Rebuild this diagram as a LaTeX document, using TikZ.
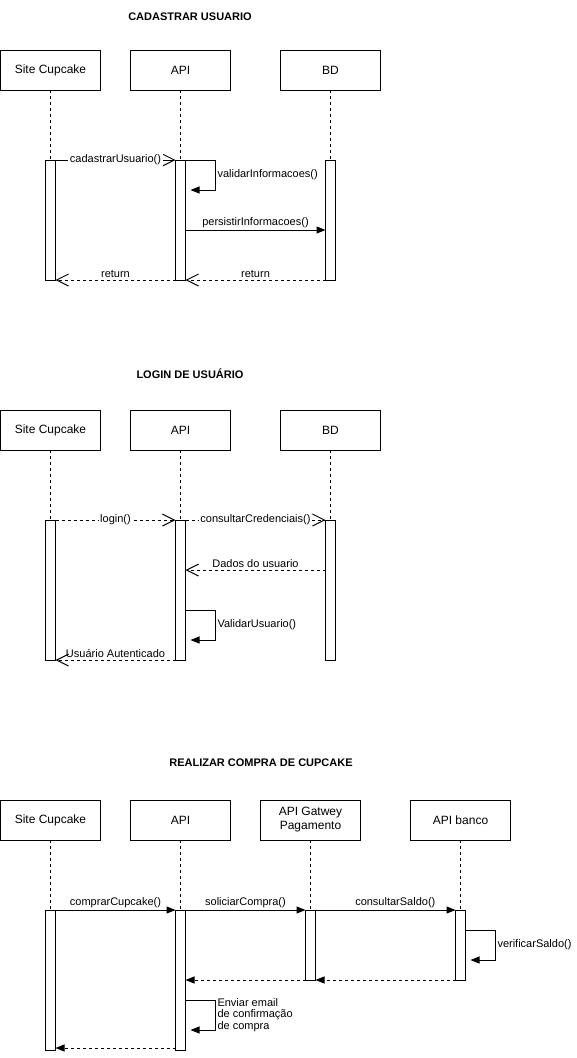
\documentclass[tikz,border=0pt]{standalone}
\usepackage{fontspec}
\setmainfont{Liberation Sans}
\usetikzlibrary{arrows.meta,positioning,calc}

\begin{document}
\begin{tikzpicture}[
  x=1pt, y=-1pt, line width=1pt,
  node distance=70pt and 30pt,
  caixa/.style={draw, minimum width=100pt, minimum height=40pt, align=center,
                inner sep=2pt, outer sep=0pt, font=\fontsize{12}{14}\selectfont},
  barra/.style={draw, fill=white, minimum width=10pt, inner sep=0pt, outer sep=0pt},
  vida/.style={dash pattern=on 3pt off 3pt},
  titulo/.style={font=\bfseries\fontsize{11}{13}\selectfont},
  rotulo/.style={font=\fontsize{11}{13}\selectfont, inner sep=1.5pt},
  nalinha/.style={rotulo, fill=white, midway},
  cheia/.style={-{Triangle[length=9pt, width=7pt]}},
  aberta/.style={-{Straight Barb[length=12pt, width=12pt]}},
  volta/.style={aberta, dash pattern=on 3pt off 3pt},
  voltac/.style={cheia, dash pattern=on 3pt off 3pt}]

  \useasboundingbox (0,0) rectangle (577,1058);

  % cadastrar usuario
  \node[titulo] (t1) at (190,17) {CADASTRAR USUARIO};
  \node[caixa, anchor=north west] (site1) at (0.5,50) {Site Cupcake};
  \node[caixa, right=of site1] (api1) {API};
  \node[caixa, right=50pt of api1] (bd1) {BD};

  \node[barra, minimum height=120pt, below=of site1] (bs1) {};
  \node[barra, minimum height=120pt, below=of api1] (ba1) {};
  \node[barra, minimum height=120pt, below=of bd1] (bb1) {};
  \draw[vida] (site1) -- (bs1);
  \draw[vida] (api1) -- (ba1);
  \draw[vida] (bd1) -- (bb1);

  \draw[aberta] (bs1.north east) -- (ba1.north west)
    node[nalinha] {cadastrarUsuario()};
  \draw[cheia] (ba1.north east) -- ++(30,0) -- ++(0,30)
    node[rotulo, midway, right] {validarInformacoes()} -- ++(-25,0);
  \draw[cheia] ($(ba1.north east)+(0,70)$) -- ($(bb1.north west)+(0,70)$)
    node[rotulo, midway, above] {persistirInformacoes()};
  \draw[volta] (ba1.south west) -- (bs1.south east)
    node[rotulo, midway, above] {return};
  \draw[volta] (bb1.south west) -- (ba1.south east)
    node[rotulo, midway, above] {return};

  % login de usuario
  \node[titulo] (t2) at (190,374) {LOGIN DE USUÁRIO};
  \node[caixa, anchor=north west] (site2) at (0.5,410) {Site Cupcake};
  \node[caixa, right=of site2] (api2) {API};
  \node[caixa, right=50pt of api2] (bd2) {BD};

  \node[barra, minimum height=140pt, below=of site2] (bs2) {};
  \node[barra, minimum height=140pt, below=of api2] (ba2) {};
  \node[barra, minimum height=140pt, below=of bd2] (bb2) {};
  \draw[vida] (site2) -- (bs2);
  \draw[vida] (api2) -- (ba2);
  \draw[vida] (bd2) -- (bb2);

  \draw[volta] (bs2.north east) -- (ba2.north west)
    node[nalinha] {login()};
  \draw[volta] (ba2.north east) -- (bb2.north west)
    node[nalinha] {consultarCredenciais()};
  \draw[volta] ($(bb2.north west)+(0,50)$) -- ($(ba2.north east)+(0,50)$)
    node[rotulo, midway, above] {Dados do usuario};
  \draw[cheia] ($(ba2.north east)+(0,90)$) -- ++(30,0) -- ++(0,30)
    node[rotulo, midway, right] {ValidarUsuario()} -- ++(-25,0);
  \draw[volta] (ba2.south west) -- (bs2.south east)
    node[rotulo, midway, above] {Usuário Autenticado};

  % realizar compra
  \node[titulo] (t3) at (261,763) {REALIZAR COMPRA DE CUPCAKE};
  \node[caixa, anchor=north west] (site3) at (0.5,800) {Site Cupcake};
  \node[caixa, right=of site3] (api3) {API};
  \node[caixa, right=of api3] (gw3) {API Gatwey\\Pagamento};
  \node[caixa, right=50pt of gw3] (bco3) {API banco};

  \node[barra, minimum height=140pt, below=of site3] (bs3) {};
  \node[barra, minimum height=140pt, below=of api3] (ba3) {};
  \node[barra, minimum height=70pt, below=of gw3] (bg3) {};
  \node[barra, minimum height=70pt, below=of bco3] (bk3) {};
  \draw[vida] (site3) -- (bs3);
  \draw[vida] (api3) -- (ba3);
  \draw[vida] (gw3) -- (bg3);
  \draw[vida] (bco3) -- (bk3);

  \draw[cheia] (bs3.north east) -- (ba3.north west)
    node[rotulo, midway, above] {comprarCupcake()};
  \draw[cheia] (ba3.north east) -- (bg3.north west)
    node[rotulo, midway, above] {soliciarCompra()};
  \draw[cheia] (bg3.north east) -- (bk3.north west)
    node[rotulo, pos=0.57, above] {consultarSaldo()};
  \draw[cheia] ($(bk3.north east)+(0,20)$) -- ++(30,0) -- ++(0,30)
    node[rotulo, midway, right] {verificarSaldo()} -- ++(-25,0);
  \draw[voltac] (bk3.south west) -- (bg3.south east);
  \draw[voltac] (bg3.south west) -- ($(ba3.north east)+(0,70)$);
  \draw[cheia] ($(ba3.north east)+(0,90)$) -- ++(30,0) -- ++(0,30)
    node[rotulo, midway, right, align=left,
         font=\fontsize{11}{11.5}\selectfont] {Enviar email\\de confirmação\\de compra}
    -- ++(-25,0);
  \draw[voltac] ($(ba3.south west)+(0,-2)$) -- ($(bs3.south east)+(0,-2)$);
\end{tikzpicture}
\end{document}
